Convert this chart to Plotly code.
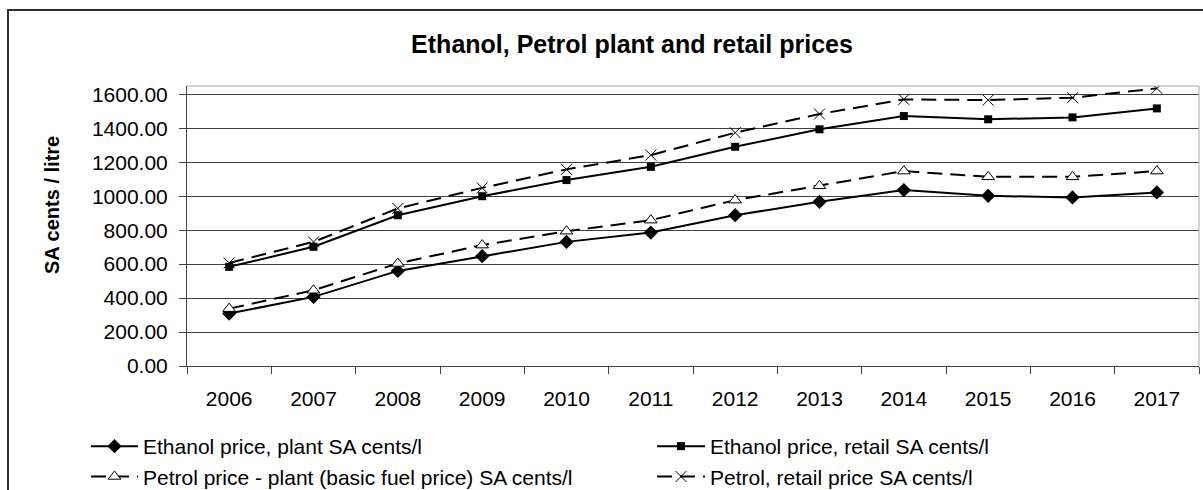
import plotly.graph_objects as go

years = ["2006", "2007", "2008", "2009", "2010", "2011", "2012", "2013", "2014", "2015", "2016", "2017"]
eth_plant = [309, 407, 560, 647, 731, 786, 888, 967, 1036, 1002, 993, 1022]
eth_retail = [584, 702, 888, 1000, 1095, 1173, 1291, 1394, 1472, 1453, 1464, 1517]
pet_plant = [338, 446, 604, 712, 794, 859, 977, 1061, 1148, 1114, 1114, 1148]
pet_retail = [607, 731, 928, 1049, 1158, 1242, 1374, 1484, 1570, 1566, 1580, 1635]

names = [
    "Ethanol price, plant SA cents/l",
    "Ethanol price, retail SA cents/l",
    "Petrol price - plant (basic fuel price) SA cents/l",
    "Petrol, retail price SA cents/l",
]

FONT = "Liberation Sans, Arial, sans-serif"
W, H = 1203, 490
L, R, T, B = 187, 4, 86, 124
DASH = "15px,8px"

fig = go.Figure()
fig.add_trace(go.Scatter(x=years, y=eth_plant, name=names[0], mode="lines+markers",
                         legend="legend",
                         line=dict(color="black", width=2),
                         marker=dict(symbol="diamond", size=11, color="black")))
fig.add_trace(go.Scatter(x=years, y=eth_retail, name=names[1], mode="lines+markers",
                         legend="legend2",
                         line=dict(color="black", width=2),
                         marker=dict(symbol="square", size=8, color="black")))
fig.add_trace(go.Scatter(x=years, y=pet_plant, name=names[2], mode="lines+markers",
                         legend="legend",
                         line=dict(color="black", width=2, dash=DASH),
                         marker=dict(symbol="triangle-up", size=11, color="white",
                                     line=dict(color="black", width=1))))
fig.add_trace(go.Scatter(x=years, y=pet_retail, name=names[3], mode="lines+markers",
                         legend="legend2",
                         line=dict(color="black", width=2, dash=DASH),
                         marker=dict(symbol="x-thin-open", size=11, color="black",
                                     line=dict(color="black", width=1))))

pw = W - L - R
ph = H - T - B

legend_common = dict(orientation="v", xref="container", yref="container",
                     xanchor="left", yanchor="top",
                     font=dict(family=FONT, size=21, color="black"),
                     bgcolor="rgba(0,0,0,0)", borderwidth=0, tracegroupgap=0,
                     traceorder="normal")

fig.update_layout(
    width=W, height=H,
    margin=dict(l=L, r=R, t=T, b=B, autoexpand=False),
    paper_bgcolor="white", plot_bgcolor="white",
    font=dict(family=FONT, size=21, color="black"),
    showlegend=True,
    legend=dict(x=86 / W, y=1 - 426 / H, itemwidth=47, **legend_common),
    legend2=dict(x=652 / W, y=1 - 426 / H, itemwidth=48, **legend_common),
    title=dict(text="<b>Ethanol, Petrol plant and retail prices</b>",
               x=632 / W, xanchor="center", xref="container",
               y=1 - 44 / H, yanchor="middle", yref="container",
               font=dict(family=FONT, size=25, color="black")),
    xaxis=dict(type="category", range=[-0.5, 11.5], showgrid=False,
               tickson="boundaries", ticks="outside", ticklen=7, tickcolor="#404040",
               ticklabelstandoff=14,
               tickfont=dict(family=FONT, size=21, color="black"),
               showline=True, linecolor="#404040", linewidth=1, mirror=False,
               zeroline=False, fixedrange=True),
    yaxis=dict(range=[0, 1649], dtick=200, tick0=0, tickformat=".2f",
               showgrid=True, gridcolor="#404040", gridwidth=1,
               ticks="outside", ticklen=7, tickcolor="#404040",
               ticklabelstandoff=7,
               tickfont=dict(family=FONT, size=21, color="black"),
               showline=True, linecolor="#404040", linewidth=1,
               zeroline=True, zerolinecolor="#404040", zerolinewidth=1, fixedrange=True),
    annotations=[dict(text="<b>SA cents / litre</b>", textangle=-90,
                      xref="paper", yref="paper",
                      x=(52 - L) / pw, y=(H - B - 205) / ph,
                      xanchor="center", yanchor="middle", showarrow=False,
                      font=dict(family=FONT, size=20, color="black"))],
    shapes=[
        # outer chart frame
        dict(type="rect", xref="paper", yref="paper",
             x0=(8 - L) / pw, x1=(W + 20 - L) / pw,
             y0=-(B + 20) / ph, y1=(H - B - 10) / ph,
             line=dict(color="#303030", width=2), fillcolor="rgba(0,0,0,0)", layer="below"),
        # light plot-area border (top and right)
        dict(type="line", xref="paper", yref="paper", x0=0, x1=1, y0=1, y1=1,
             line=dict(color="#a8a8a8", width=1)),
        dict(type="line", xref="paper", yref="paper", x0=1, x1=1, y0=0, y1=1,
             line=dict(color="#a8a8a8", width=1)),
    ],
)

fig.write_html("out.html", config={"displayModeBar": False},
               post_script="document.body.style.margin='0';document.body.style.overflow='hidden';")
